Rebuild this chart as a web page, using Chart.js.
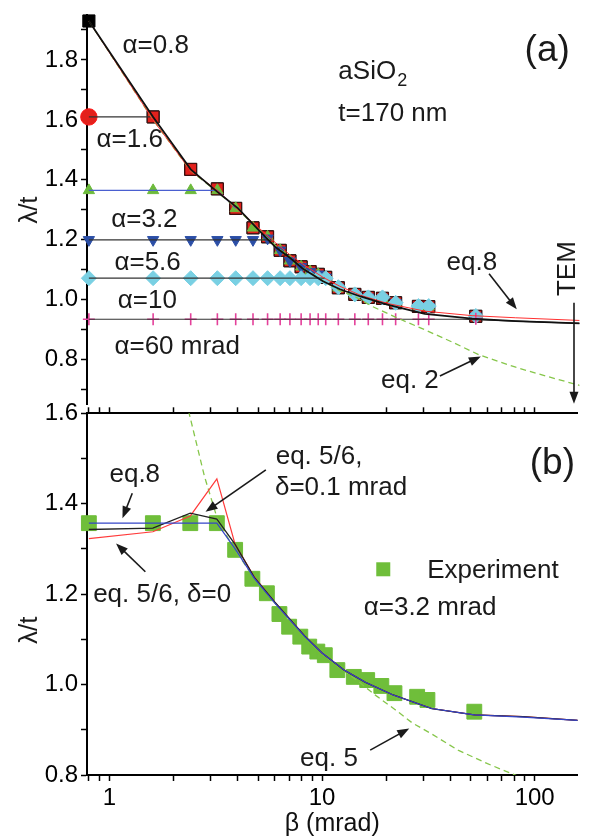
<!DOCTYPE html>
<html>
<head>
<meta charset="utf-8">
<script src="https://cdn.jsdelivr.net/npm/chart.js@4.4.1/dist/chart.umd.min.js"></script>
<style>
  html, body { margin: 0; padding: 0; background: #fff; }
  #wrap  { position: relative; width: 589px; height: 837px; overflow: hidden; }
  .panel { position: absolute; left: 0; width: 589px; }
  #boxA  { top: 0;     height: 414px; }
  #boxB  { top: 400px; height: 437px; }
</style>
</head>
<body>
<div id="wrap">
  <div class="panel" id="boxA"><canvas id="chartA"></canvas></div>
  <div class="panel" id="boxB"><canvas id="chartB"></canvas></div>
</div>
<script>
// ══════════════════════════════════════════════════════════════
// λ/t vs β — aSiO2, t=170 nm. Two stacked panels sharing a log β axis.
// All values.
// ══════════════════════════════════════════════════════════════

// ── Axes ──────────────────────────────────────────────────────
const xTicks  = [0.8, 0.9, 1, 2, 3, 4, 5, 6, 7, 8, 9, 10, 20, 30, 40, 50, 60, 70, 80, 90, 100];
const xLabels = [1, 10, 100];
const yTicksA  = [0.7, 0.8, 0.9, 1.0, 1.1, 1.2, 1.3, 1.4, 1.5, 1.6, 1.7, 1.8, 1.9];
const yLabelsA = [0.8, 1.0, 1.2, 1.4, 1.6, 1.8];
const yTicksB  = [0.8, 0.9, 1.0, 1.1, 1.2, 1.3, 1.4, 1.5, 1.6];
const yLabelsB = [0.8, 1.0, 1.2, 1.4, 1.6];

// ── Measured β (mrad) ─────────────────────────────────────────
const betaExp = [0.8, 1.6, 2.4, 3.2, 3.9, 4.7, 5.5, 6.3, 7.0, 7.9, 8.7, 9.5, 10.3, 11.8, 14.1, 16.3, 19, 21.9, 28, 31.3, 52];

// ── Panel (a): markers, one series per aperture α ─────────────
const alpha08 = [1.93, 1.61, 1.435, 1.37, 1.305, 1.24, 1.21, 1.165, 1.13, 1.11, 1.094, 1.085, 1.075, 1.04, 1.018, 1.008, 1.005, 0.99, 0.978, 0.977, 0.945];
const alpha16 = [1.61, 1.61, 1.435, 1.37, 1.305, 1.24, 1.21, 1.165, 1.13, 1.11, 1.094, 1.085, 1.075, 1.04, 1.018, 1.008, 1.005, 0.99, 0.978, 0.977, 0.945];
const alpha32 = [1.365, 1.365, 1.365, 1.365, 1.305, 1.24, 1.21, 1.165, 1.13, 1.11, 1.094, 1.085, 1.075, 1.04, 1.018, 1.008, 1.005, 0.99, 0.978, 0.977, 0.945];
const alpha56 = [1.2, 1.2, 1.2, 1.2, 1.2, 1.2, 1.205, 1.165, 1.13, 1.11, 1.094, 1.085, 1.075, 1.04, 1.018, 1.008, 1.005, 0.99, 0.978, 0.977, 0.945];
const alpha10 = [1.072, 1.072, 1.072, 1.072, 1.072, 1.072, 1.072, 1.072, 1.072, 1.072, 1.072, 1.072, 1.072, 1.042, 1.018, 1.008, 1.008, 0.99, 0.979, 0.979, 0.946];
const alpha60 = [0.935, 0.935, 0.935, 0.935, 0.935, 0.935, 0.935, 0.935, 0.935, 0.935, 0.935, 0.935, 0.935, 0.935, 0.935, 0.935, 0.935, 0.935, 0.935, 0.935, 0.937];

// ── Panel (a): calculated curves ──────────────────────────────
const betaCurveA = [0.8, 1.6, 2.4, 3.2, 4, 5, 6, 7, 8, 10, 12, 15, 20, 30, 50, 80, 160];
const calcA      = [1.93, 1.61, 1.435, 1.36, 1.305, 1.232, 1.175, 1.14, 1.105, 1.062, 1.035, 1.011, 0.984, 0.953, 0.937, 0.929, 0.921];
const eq8A       = [1.93, 1.60, 1.43, 1.365, 1.30, 1.24, 1.19, 1.15, 1.12, 1.075, 1.045, 1.015, 0.988, 0.962, 0.947, 0.940, 0.931];
const betaEq2 = [0.8, 1.6, 2.4, 3.2, 4, 5, 6, 8, 10, 12, 14, 17, 23, 30, 40, 54, 80, 110, 160];
const eq2A    = [1.93, 1.60, 1.43, 1.36, 1.30, 1.235, 1.18, 1.108, 1.063, 1.03, 1.012, 0.978, 0.935, 0.9, 0.86, 0.816, 0.775, 0.746, 0.714];

// horizontal parts of the α curves (β < α)
const rowBeta16 = [0.8, 1.6];        const row16 = [1.61, 1.61];
const rowBeta32 = [0.8, 3.2, 3.9];   const row32 = [1.365, 1.365, 1.305];
const rowBeta56 = [0.8, 5.8];        const row56 = [1.2, 1.2];
const rowBeta10 = [0.8, 10.2];       const row10 = [1.072, 1.072];
const rowBeta60 = [0.8, 45, 80, 160]; const row60 = [0.935, 0.935, 0.929, 0.921];

// ── Panel (b): α = 3.2 mrad ───────────────────────────────────
const experimentB = [1.357, 1.357, 1.357, 1.357, 1.298, 1.234, 1.202, 1.156, 1.128, 1.106, 1.084, 1.073, 1.065, 1.032, 1.017, 1.01, 0.997, 0.981, 0.973, 0.966, 0.94];
const betaCurveB = [0.8, 1.6, 2.4, 3.2, 3.9, 4.8, 6, 8.3, 10, 12.7, 16, 21.6, 32.8, 52, 88, 160];
const eq8B       = [1.357, 1.357, 1.357, 1.357, 1.30, 1.235, 1.18, 1.106, 1.07, 1.032, 1.005, 0.977, 0.947, 0.933, 0.928, 0.921];
const eq56d01B   = [1.343, 1.346, 1.379, 1.366, 1.31, 1.237, 1.182, 1.107, 1.07, 1.032, 1.005, 0.977, 0.947, 0.933, 0.929, 0.921];
const eq56d0B    = [1.323, 1.338, 1.373, 1.455, 1.31, 1.238, 1.182, 1.107, 1.07, 1.032, 1.005, 0.977, 0.947, 0.933, 0.929, 0.921];
const betaEq5 = [2.2, 2.37, 2.8, 3.2, 3.6, 4.0, 4.8, 6, 8.3, 10, 12.7, 15, 18, 22, 26.6, 33, 43.6, 60, 88, 160];
const eq5B    = [1.67, 1.6, 1.46, 1.37, 1.325, 1.29, 1.235, 1.18, 1.106, 1.068, 1.03, 1.005, 0.975, 0.945, 0.915, 0.89, 0.855, 0.825, 0.793, 0.741];

// ── Style ─────────────────────────────────────────────────────
const FONT = "'Liberation Sans', Arial, Helvetica, sans-serif";
const TICK_FONT = { family: FONT, size: 24 };
const TXT = 26;
const X_MIN = 0.784, X_MAX = 159;
const AXIS_LEFT = 87;

// ── Annotations (data coordinates) ────────────────────────────
const textsA = [
    { text: 'α=0.8', x: 1.15, y: 1.847 },
    { text: 'α=1.6', x: 0.869, y: 1.535 },
    { text: 'α=3.2', x: 1.018, y: 1.266 },
    { text: 'α=5.6', x: 1.054, y: 1.122 },
    { text: 'α=10', x: 1.092, y: 0.996 },
    { text: 'α=60 mrad', x: 1.054, y: 0.843 },
    { text: 'aSiO', sub: '2', x: 11.8, y: 1.76 },
    { text: 't=170 nm', x: 11.8, y: 1.621 },
    { text: '(a)', x: 88, y: 1.83, size: 37 },
    { text: 'eq.8', x: 37.9, y: 1.123 },
    { text: 'TEM', x: 140, y: 1.104, rotate: -90, align: 'center' },
    { text: 'eq. 2', x: 18.7, y: 0.729 },
    { text: 'λ/t', left: -57, y: 1.299, rotate: -90, align: 'center' },
];
const arrowsA = [
    { x1: 60, y1: 1.087, x2: 80.9, y2: 0.968 },
    { x1: 35.3, y1: 0.746, x2: 54.9, y2: 0.811 },
    { x1: 150, y1: 0.99, x2: 150, y2: 0.653 },
];
const textsB = [
    { text: '(b)', x: 94.8, y: 1.488, size: 37 },
    { text: 'eq.8', x: 1.0, y: 1.4635 },
    { text: 'eq. 5/6,', x: 6.05, y: 1.504 },
    { text: 'δ=0.1 mrad', x: 6.0, y: 1.436 },
    { text: 'eq. 5/6, δ=0', x: 0.838, y: 1.198 },
    { text: 'Experiment', x: 31.2, y: 1.251 },
    { text: 'α=3.2 mrad', x: 15.7, y: 1.169 },
    { text: 'eq. 5', x: 7.88, y: 0.835 },
    { text: 'λ/t', left: -57, y: 1.12, rotate: -90, align: 'center' },
];
const arrowsB = [
    { x1: 1.28, y1: 1.423, x2: 1.151, y2: 1.368 },
    { x1: 5.44, y1: 1.475, x2: 2.83, y2: 1.382 },
    { x1: 1.475, y1: 1.2495, x2: 1.074, y2: 1.312 },
    { x1: 16.84, y1: 0.855, x2: 25.7, y2: 0.903 },
];
const legendB = [{ x: 19.4, y: 1.255, color: '#6fbe3a', side: 14 }];

// ══════════════════════════════════════════════════════════════
// HELPERS
// ══════════════════════════════════════════════════════════════
function pts(xs, ys) {
    const out = [];
    xs.forEach((x, i) => { if (ys[i] != null) out.push({ x, y: ys[i] }); });
    return out;
}

function curva(xs, ys, color, width, order, dash) {
    return {
        data: pts(xs, ys), borderColor: color, borderWidth: width, borderDash: dash || [],
        pointRadius: 0, fill: false, tension: 0, order,
    };
}

function marcas(xs, ys, style, radius, fillColor, order, extra) {
    return Object.assign({
        data: pts(xs, ys), showLine: false, pointStyle: style, pointRadius: radius,
        backgroundColor: fillColor, borderColor: fillColor, borderWidth: 1, clip: false, order,
    }, extra || {});
}

function xScale(extra) {
    return Object.assign({
        type: 'logarithmic', min: X_MIN, max: X_MAX,
        afterBuildTicks: s => { s.ticks = xTicks.map(v => ({ value: v })); },
        border: { color: '#000', width: 2 },
        grid: { drawOnChartArea: false, tickLength: 6, tickColor: '#000', tickWidth: 1.5 },
        ticks: {
            color: '#000', font: TICK_FONT, padding: 3, autoSkip: false, maxRotation: 0,
            callback: v => xLabels.includes(v) ? String(v) : '',
        },
    }, extra || {});
}

function yScale(min, max, ticks, labels) {
    return {
        type: 'linear', min, max,
        afterBuildTicks: s => { s.ticks = ticks.map(v => ({ value: v })); },
        afterFit: s => { s.width = AXIS_LEFT; s.paddingTop = 0; s.paddingBottom = 0; },
        border: { color: '#000', width: 2 },
        grid: { drawOnChartArea: false, tickLength: 6, tickColor: '#000', tickWidth: 1.5 },
        ticks: {
            color: '#000', font: TICK_FONT, padding: 3,
            callback: v => labels.includes(v) ? v.toFixed(1) : '',
        },
    };
}

function dibujarFlecha(ctx, x1, y1, x2, y2) {
    const ang = Math.atan2(y2 - y1, x2 - x1), L = 12, W = 4.5;
    const c = Math.cos(ang), s = Math.sin(ang);
    ctx.lineWidth = 1.6;
    ctx.beginPath();
    ctx.moveTo(x1, y1);
    ctx.lineTo(x2 - L * 0.8 * c, y2 - L * 0.8 * s);
    ctx.stroke();
    ctx.beginPath();
    ctx.moveTo(x2, y2);
    ctx.lineTo(x2 - L * c + W * s, y2 - L * s - W * c);
    ctx.lineTo(x2 - L * c - W * s, y2 - L * s + W * c);
    ctx.closePath();
    ctx.fill();
}

function anotaciones(textos, flechas, cuadros) {
    return {
        id: 'anotaciones',
        afterDatasetsDraw(chart) {
            const { ctx, chartArea } = chart;
            const px = v => chart.scales.x.getPixelForValue(v);
            const py = v => chart.scales.y.getPixelForValue(v);
            ctx.save();
            ctx.fillStyle = '#1a1a1a';
            ctx.strokeStyle = '#1a1a1a';
            flechas.forEach(f => dibujarFlecha(ctx, px(f.x1), py(f.y1), px(f.x2), py(f.y2)));
            (cuadros || []).forEach(q => {
                ctx.fillStyle = q.color;
                ctx.fillRect(px(q.x) - q.side / 2, py(q.y) - q.side / 2, q.side, q.side);
            });
            ctx.fillStyle = '#1a1a1a';
            textos.forEach(t => {
                const x = t.left != null ? chartArea.left + t.left : px(t.x);
                const y = py(t.y);
                const size = t.size || TXT;
                ctx.font = `${size}px ${FONT}`;
                ctx.textBaseline = 'middle';
                ctx.textAlign = t.align || 'left';
                if (t.rotate) {
                    ctx.save();
                    ctx.translate(x, y);
                    ctx.rotate(t.rotate * Math.PI / 180);
                    ctx.fillText(t.text, 0, 0);
                    ctx.restore();
                } else {
                    ctx.fillText(t.text, x, y);
                }
                if (t.sub) {
                    const w = ctx.measureText(t.text).width;
                    ctx.font = `${Math.round(size * 0.7)}px ${FONT}`;
                    ctx.fillText(t.sub, x + w + 1, y + size * 0.35);
                }
            });
            ctx.restore();
        },
    };
}

const baseOptions = {
    responsive: true,
    maintainAspectRatio: false,
    animation: false,
    plugins: { legend: { display: false }, tooltip: { enabled: false } },
};

// ══════════════════════════════════════════════════════════════
// PANEL (a)
// ══════════════════════════════════════════════════════════════
const datasetsA = [
    curva(betaCurveA, calcA, '#111', 1.8, 0),
    curva(betaCurveA, eq8A, '#ff3030', 1, 1),
    curva(betaEq2, eq2A, '#86c64a', 1.3, 2, [6, 4]),
    curva(rowBeta16, row16, '#333', 1.2, 3),
    curva(rowBeta32, row32, '#4a5fd0', 1.2, 3),
    curva(rowBeta56, row56, '#333', 1.2, 3),
    curva(rowBeta10, row10, '#333', 1.2, 3),
    curva(rowBeta60, row60, '#333', 1.2, 3),
    marcas(betaExp, alpha60, 'cross', 6, '#e4419b', 4, { borderWidth: 1.6 }),
    marcas(betaExp, alpha10, 'rectRot', 7.5, '#79d0e3', 5),
    marcas(betaExp, alpha56, 'triangle', 6.5, '#2b4ea6', 6, { rotation: 180 }),
    marcas(betaExp, alpha32, 'triangle', 6.5, '#6dbb3c', 7),
    marcas(betaExp, alpha16, c => c.dataIndex === 0 ? 'circle' : 'rect', 8.2, '#e3211c', 8,
           { borderColor: c => c.dataIndex === 0 ? '#ff1a1a' : '#4a1010' }),
    marcas(betaExp, alpha08, 'rect', 8.6, '#000', 9),
];

new Chart(document.getElementById('chartA'), {
    type: 'line',
    data: { datasets: datasetsA },
    options: Object.assign({}, baseOptions, {
        layout: { padding: { top: 15, right: 0, bottom: 0, left: 0 } },
        scales: {
            x: xScale({ display: false }),
            y: yScale(0.651, 1.95, yTicksA, yLabelsA),
        },
    }),
    plugins: [anotaciones(textsA, arrowsA)],
});

// ══════════════════════════════════════════════════════════════
// PANEL (b)
// ══════════════════════════════════════════════════════════════
const datasetsB = [
    curva(betaCurveB, eq8B, '#3545c8', 1.2, 0),
    curva(betaCurveB, eq56d01B, '#222', 1.3, 1),
    curva(betaCurveB, eq56d0B, '#ff3b3b', 1.2, 2),
    curva(betaEq5, eq5B, '#86c64a', 1.3, 3, [6, 4]),
    marcas(betaExp, experimentB, 'rect', 10.5, '#6fbe3a', 4),
];

new Chart(document.getElementById('chartB'), {
    type: 'line',
    data: { datasets: datasetsB },
    options: Object.assign({}, baseOptions, {
        layout: { padding: 0 },
        scales: {
            x: xScale({
                position: 'bottom',
                afterFit: s => { s.height = 62; s.paddingLeft = 0; s.paddingRight = 0; },
                title: { display: true, text: 'β (mrad)', color: '#111',
                         font: { family: FONT, size: 25, lineHeight: 1 }, padding: 0 },
            }),
            xt: xScale({
                position: 'top',
                afterFit: s => { s.height = 13.3; s.paddingLeft = 0; s.paddingRight = 0; },
                ticks: { display: false, autoSkip: false },
            }),
            y: yScale(0.8, 1.6, yTicksB, yLabelsB),
        },
    }),
    plugins: [anotaciones(textsB, arrowsB, legendB)],
});
</script>
</body>
</html>
